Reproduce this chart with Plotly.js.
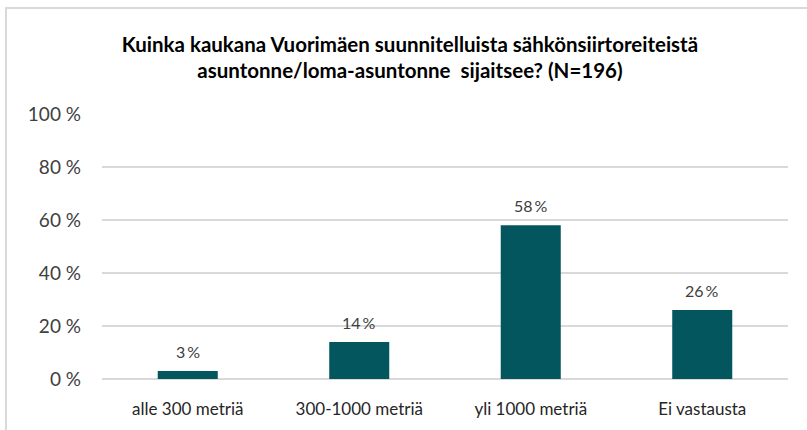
<!DOCTYPE html>
<html>
<head>
<meta charset="utf-8">
<script src="https://cdn.plot.ly/plotly-3.0.1.min.js"></script>
<style>
html,body{margin:0;padding:0;background:#fff;}
#wrap{position:relative;width:807px;height:430px;}
#chart{position:absolute;left:0;top:0;width:807px;height:430px;}
#frame{position:absolute;left:5px;top:7px;width:802px;height:423px;border-top:2px solid #d9d9d9;border-left:2px solid #d9d9d9;box-sizing:border-box;pointer-events:none;}
</style>
</head>
<body>
<div id="wrap"><div id="chart"></div><div id="frame"></div></div>
<script>
const categories = ['alle 300 metriä', '300-1000 metriä', 'yli 1000 metriä', 'Ei vastausta'];
const values = [3, 14, 58, 26];
const labels = ['3\u2009%', '14\u2009%', '58\u2009%', '26\u2009%'];
const yTicks = [0, 20, 40, 60, 80, 100];

const font = 'Lato, "Open Sans", sans-serif';

const trace = {
  type: 'bar',
  x: categories,
  y: values,
  width: 0.35,
  marker: {color: '#03565e'},
  hoverinfo: 'skip'
};

const annotations = categories.map((c, i) => ({
  x: c, y: values[i], xref: 'x', yref: 'y',
  text: labels[i], showarrow: false,
  yanchor: 'bottom', yshift: 8,
  font: {family: font, size: 16, color: '#404040'}
}));

const layout = {
  width: 807, height: 430,
  margin: {l: 102, r: 19, t: 114, b: 51},
  paper_bgcolor: '#ffffff', plot_bgcolor: '#ffffff',
  title: {
    text: '<b>Kuinka kaukana Vuorimäen suunnitelluista sähkönsiirtoreiteistä<br>asuntonne/loma-asuntonne  sijaitsee? (N=196)</b>',
    x: 0.508, xanchor: 'center', y: 0.88, yanchor: 'middle',
    font: {family: font, size: 20.5, color: '#000000'}
  },
  showlegend: false,
  xaxis: {
    type: 'category',
    showgrid: false, zeroline: false, showline: false,
    ticks: '',
    tickfont: {family: font, size: 17, color: '#262626'},
    ticklabelstandoff: 18
  },
  yaxis: {
    range: [0, 100],
    tickvals: yTicks,
    ticktext: yTicks.map(v => v + ' %'),
    showgrid: true, gridcolor: '#d9d9d9', gridwidth: 1.5,
    zeroline: true, zerolinecolor: '#d9d9d9', zerolinewidth: 1.5,
    showline: false, ticks: '',
    tickfont: {family: font, size: 19, color: '#404040'},
    ticklabelstandoff: 20
  },
  annotations: annotations
};

Plotly.newPlot('chart', [trace], layout, {displayModeBar: false, staticPlot: true});
</script>
</body>
</html>
